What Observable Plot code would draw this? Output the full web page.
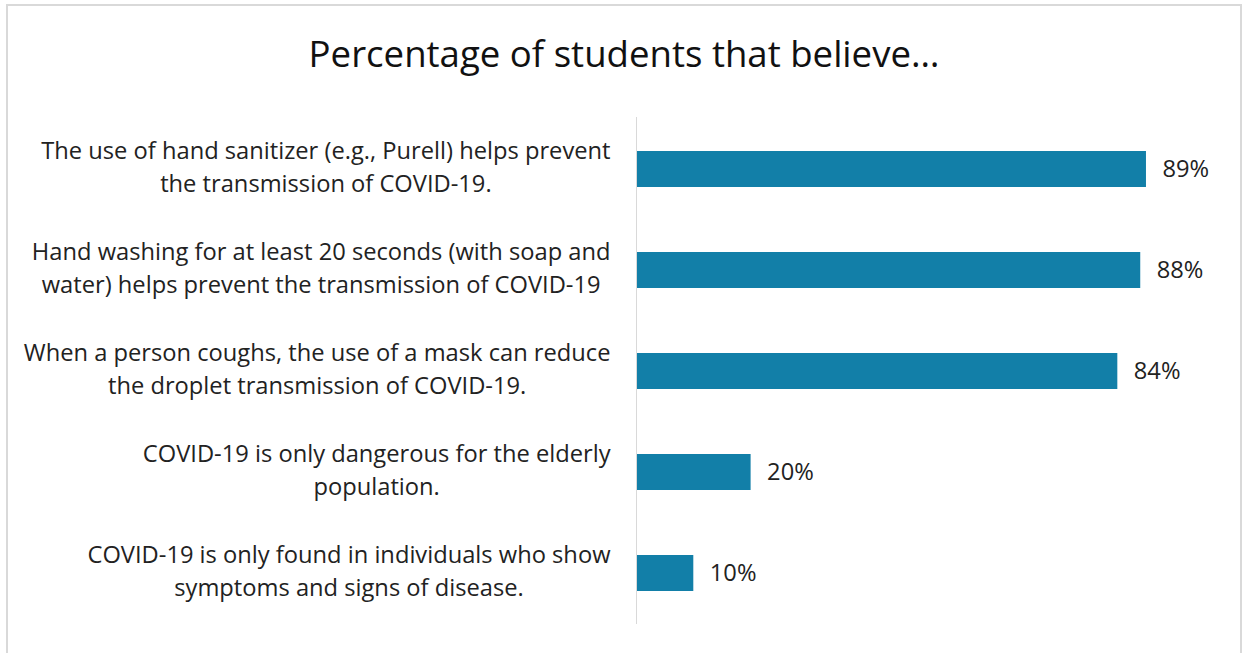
<!DOCTYPE html>
<html>
<head>
<meta charset="utf-8">
<script src="https://cdn.jsdelivr.net/npm/d3@7"></script>
<script src="https://cdn.jsdelivr.net/npm/@observablehq/plot@0.6"></script>
<style>
  html, body { margin: 0; padding: 0; background: #fff; width: 1243px; height: 653px; overflow: hidden; }
  #frame { position: absolute; left: 6px; top: 4px; width: 1236px; height: 720px; box-sizing: border-box; border: 2px solid #d9d9d9; }
  #title { position: absolute; left: 6px; width: 1236px; top: 31px; text-align: center; font-family: "Open Sans", sans-serif; font-size: 36.6px; line-height: 44px; color: #111; }
  #chart { position: absolute; left: 0; top: 100px; }
</style>
</head>
<body>
<div id="frame"></div>
<div id="title">Percentage of students that believe…</div>
<div id="chart"></div>
<script>
const statements = [
  "The use of hand sanitizer (e.g., Purell) helps prevent\nthe transmission of COVID-19.",
  "Hand washing for at least 20 seconds (with soap and\nwater) helps prevent the transmission of COVID-19",
  "When a person coughs, the use of a mask can reduce\nthe droplet transmission of COVID-19.",
  "COVID-19 is only dangerous for the elderly\npopulation.",
  "COVID-19 is only found in individuals who show\nsymptoms and signs of disease."
];
const percents = [89, 88, 84, 20, 10];

const data = statements.map((s, i) => ({statement: s, value: percents[i]}));

const FONT = "'Open Sans', sans-serif";
const FS = 23.7;

const chart = Plot.plot({
  width: 1243,
  height: 553,
  marginLeft: 636,
  marginRight: 34,
  marginTop: 17,
  marginBottom: 29,
  style: {fontFamily: FONT, fontSize: FS + "px", color: "#222", background: "transparent"},
  x: {domain: [0, 100], axis: null},
  y: {domain: statements, paddingInner: 0.645, paddingOuter: 0.3225, label: null},
  marks: [
    Plot.barX(data, {x: "value", y: "statement", fill: "#127fa8"}),
    Plot.ruleX([0], {stroke: "#d9d9d9", strokeWidth: 1}),
    Plot.text(data, {x: "value", y: "statement", text: d => d.value + "%", textAnchor: "start", dx: 16, fill: "#222", fontSize: FS}),
    Plot.axisY({tickSize: 0, tickPadding: 26, textAnchor: "end", lineHeight: 33 / FS, fontSize: FS, fill: "#222", label: null, dy: -5})
  ]
});
document.getElementById("chart").appendChild(chart);

// Center each label's lines within its block (block right-aligned to the axis)
chart.querySelectorAll('g[aria-label="y-axis tick label"] text').forEach(t => {
  const spans = t.querySelectorAll("tspan");
  if (!spans.length) return;
  let w = 0;
  spans.forEach(s => { w = Math.max(w, s.getComputedTextLength()); });
  t.setAttribute("text-anchor", "middle");
  spans.forEach(s => s.setAttribute("x", -w / 2));
});
</script>
</body>
</html>
